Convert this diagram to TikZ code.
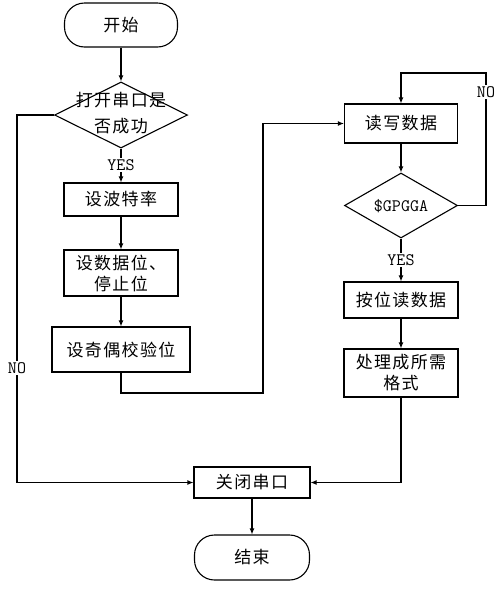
\documentclass[tikz,border=0pt]{standalone}
\usepackage{fontspec}
\newfontfamily\cjk[LetterSpace=8]{Noto Sans CJK SC}
\usetikzlibrary{shapes.geometric,arrows.meta}
\newcommand{\monof}{\ttfamily\addfontfeatures{FakeBold=1.5}}
\begin{document}
\begin{tikzpicture}[x=1pt,y=-1pt,
  line width=1.1pt,
  cjkfont/.style={font=\cjk\fontsize{17}{21}\selectfont},
  box/.style={draw, cjkfont, inner sep=0pt, align=center},
  term/.style={box, rounded corners=20pt},
  dec/.style={draw, diamond, inner sep=0pt},
  lab/.style={font=\monof\fontsize{17.5}{19}\selectfont, fill=white, inner sep=1pt},
  arr/.style={-{Latex[length=6pt,width=5pt]}}]
\useasboundingbox[fill=white] (0,0) rectangle (500,590);
% left column
\node[term, minimum width=113pt, minimum height=44pt] (start) at (121,25) {开始};
\node[dec, minimum width=133pt, minimum height=66pt] (d1) at (121,115) {};
\node[cjkfont, align=center, font=\cjk\fontsize{17}{26}\selectfont] (d1t) at (121,113) {打开串口是\\否成功};
\node[box, minimum width=114pt, minimum height=33pt] (b1) at (121,199.5) {设波特率};
\node[box, minimum width=114pt, minimum height=46pt] (b2) at (121,273) {设数据位、\\停止位};
\node[box, minimum width=138pt, minimum height=45pt] (b3) at (121,349.5) {设奇偶校验位};
% right column
\node[box, minimum width=113pt, minimum height=39pt] (rw) at (401,123.5) {读写数据};
\node[dec, minimum width=113pt, minimum height=65pt] (d2) at (401,205.5) {};
\node[font=\monof\fontsize{17.5}{19}\selectfont] (d2t) at (401,206) {\$GPGGA};
\node[box, minimum width=114pt, minimum height=36pt] (p1) at (401,300) {按位读数据};
\node[box, minimum width=114pt, minimum height=48pt] (p2) at (401,373) {处理成所需\\格式};
% bottom
\node[box, minimum width=116pt, minimum height=31pt] (close) at (252,482.5) {关闭串口};
\node[term, minimum width=115pt, minimum height=45pt] (end) at (252,557.5) {结束};
% helper coordinates
\coordinate (l1) at (17,115);
\coordinate (l2) at (17,482.5);
\coordinate (m1) at (121,393);
\coordinate (m2) at (263,393);
\coordinate (m3) at (263,123.5);
\coordinate (n1) at (486,205.5);
\coordinate (n2) at (486,73);
\coordinate (n3) at (401,73);
\coordinate (r1) at (401,482.5);
% connectors
\draw[arr] (start) -- (d1);
\draw[arr] (d1) -- (b1);
\draw[arr] (b1) -- (b2);
\draw[arr] (b2) -- (b3);
\draw[arr] (b3.south) -- (m1) -- (m2) -- (m3) -- (rw.west);
\draw[arr] (rw) -- (d2);
\draw[arr] (d2.east) -- (n1) -- (n2) -- (n3) -- (rw.north);
\draw[arr] (d2) -- (p1);
\draw[arr] (p1) -- (p2);
\draw[arr] (p2.south) -- (r1) -- (close.east);
\draw[arr] (d1.west) -- (l1) -- (l2) -- (close.west);
\draw[arr] (close) -- (end);
% labels
\node[lab] (y1) at (121,165) {YES};
\node[lab] (y2) at (401,260) {YES};
\node[lab] (no1) at (17,368) {NO};
\node[lab] (no2) at (486,92) {NO};
\end{tikzpicture}
\end{document}
